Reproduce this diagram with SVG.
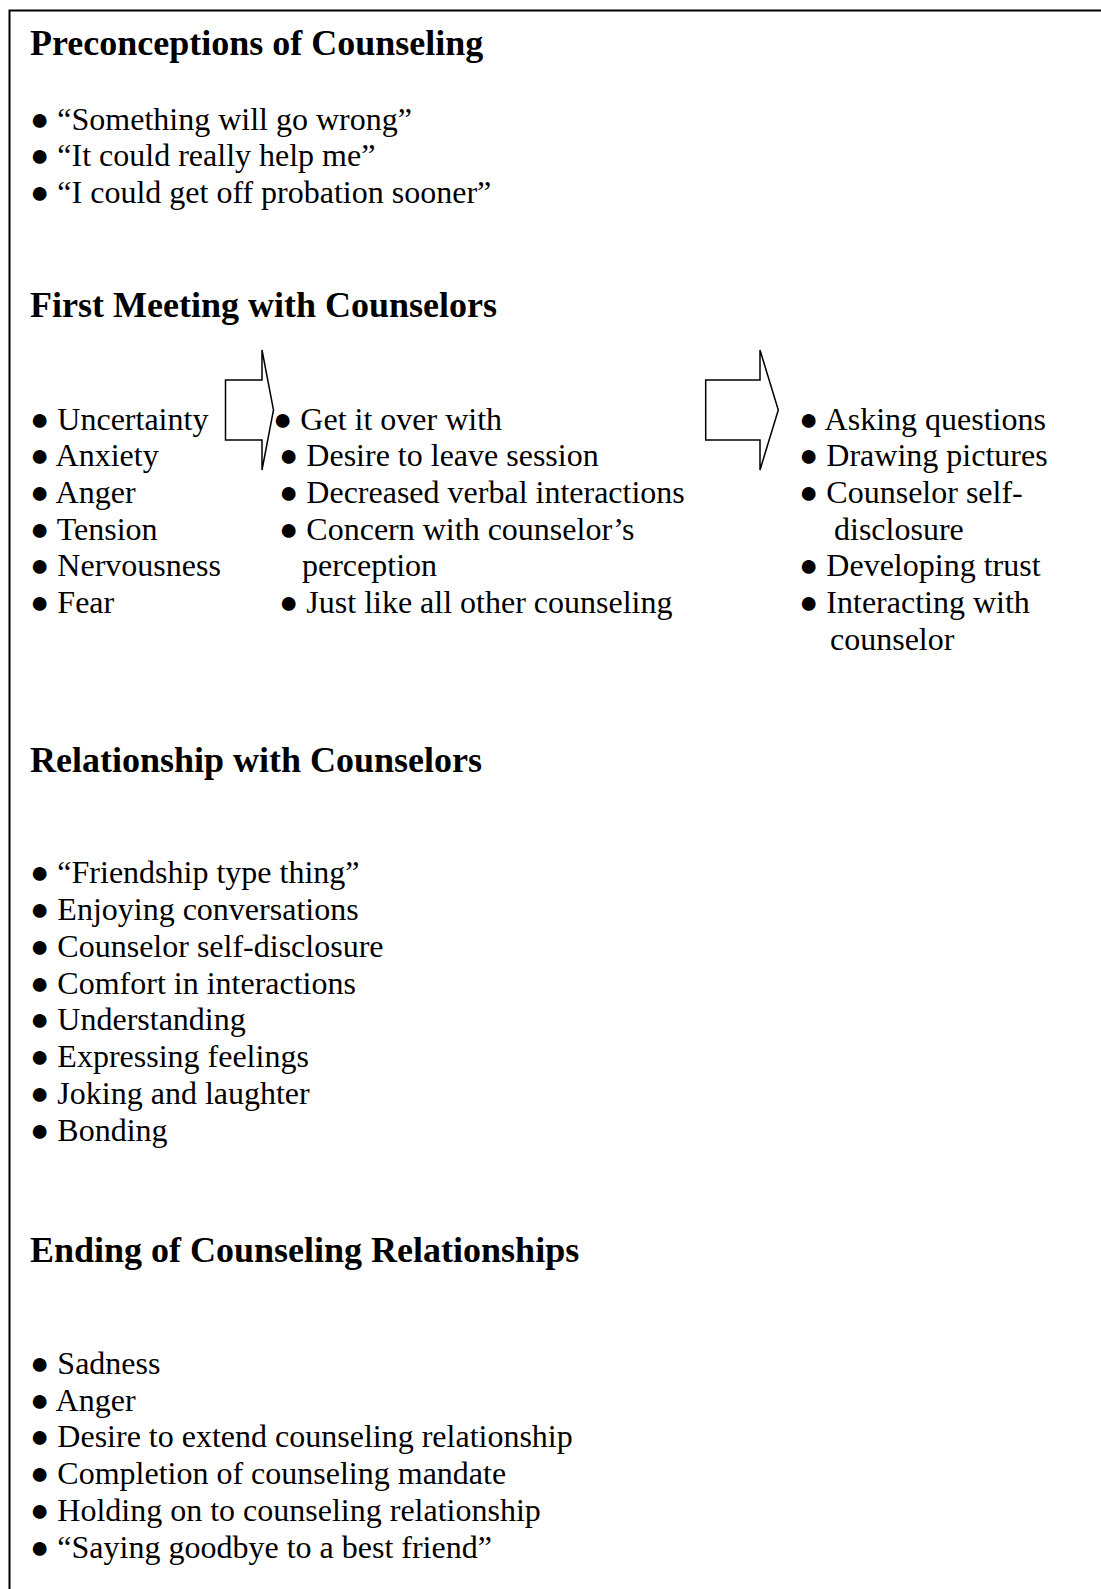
<svg xmlns="http://www.w3.org/2000/svg" width="1101" height="1589" viewBox="0 0 1101 1589">
<style>
text{font-family:"Liberation Serif","Times New Roman",serif;fill:#000}
.h{font-size:36px;font-weight:bold}
.b{font-size:32px}
.arrow{fill:#fff;stroke:#000;stroke-width:1.5;stroke-linejoin:miter}
</style>
<rect x="0" y="0" width="1101" height="1589" fill="#fff"/>
<path d="M9.5,1589 V10.5 H1101" fill="none" stroke="#000" stroke-width="2"/>
<g id="preconceptions">
<text class="h" x="30" y="55">Preconceptions of Counseling</text>
<text class="b" x="30" y="129.5">● “Something will go wrong”</text>
<text class="b" x="30" y="166.3">● “It could really help me”</text>
<text class="b" x="30" y="203">● “I could get off probation sooner”</text>
</g>
<g id="first-meeting">
<text class="h" x="30" y="316.7">First Meeting with Counselors</text>
</g>
<g id="feelings">
<text class="b" x="30" y="429.5">● Uncertainty</text>
<text class="b" x="30" y="466.2">● Anxiety</text>
<text class="b" x="30" y="502.9">● Anger</text>
<text class="b" x="30" y="539.6">● Tension</text>
<text class="b" x="30" y="576.3">● Nervousness</text>
<text class="b" x="30" y="613">● Fear</text>
</g>
<g id="reactions">
<text class="b" x="273" y="429.5">● Get it over with</text>
<text class="b" x="279" y="466.2">● Desire to leave session</text>
<text class="b" x="279" y="502.9">● Decreased verbal interactions</text>
<text class="b" x="279" y="539.6">● Concern with counselor’s</text>
<text class="b" x="302" y="576.3">perception</text>
<text class="b" x="279" y="613">● Just like all other counseling</text>
</g>
<g id="engagement">
<text class="b" x="799" y="429.5">● Asking questions</text>
<text class="b" x="799" y="466.2">● Drawing pictures</text>
<text class="b" x="799" y="502.9">● Counselor self-</text>
<text class="b" x="834" y="539.6">disclosure</text>
<text class="b" x="799" y="576.3">● Developing trust</text>
<text class="b" x="799" y="613">● Interacting with</text>
<text class="b" x="830" y="649.7">counselor</text>
</g>
<g id="relationship">
<text class="h" x="30" y="771.7">Relationship with Counselors</text>
<text class="b" x="30" y="883.3">● “Friendship type thing”</text>
<text class="b" x="30" y="920">● Enjoying conversations</text>
<text class="b" x="30" y="956.7">● Counselor self-disclosure</text>
<text class="b" x="30" y="993.5">● Comfort in interactions</text>
<text class="b" x="30" y="1030.3">● Understanding</text>
<text class="b" x="30" y="1067.1">● Expressing feelings</text>
<text class="b" x="30" y="1103.9">● Joking and laughter</text>
<text class="b" x="30" y="1140.7">● Bonding</text>
</g>
<g id="ending">
<text class="h" x="30" y="1262.3">Ending of Counseling Relationships</text>
<text class="b" x="30" y="1373.9">● Sadness</text>
<text class="b" x="30" y="1410.5">● Anger</text>
<text class="b" x="30" y="1447.1">● Desire to extend counseling relationship</text>
<text class="b" x="30" y="1483.9">● Completion of counseling mandate</text>
<text class="b" x="30" y="1520.7">● Holding on to counseling relationship</text>
<text class="b" x="30" y="1557.5">● “Saying goodbye to a best friend”</text>
</g>
<g id="connectors">
<polygon class="arrow" points="225.5,380 262,380 262,350 273.5,410 262,470 262,440 225.5,440"/>
<polygon class="arrow" points="705.7,380 760,380 760,350 778.3,410 760,470 760,440 705.7,440"/>
</g>
</svg>
